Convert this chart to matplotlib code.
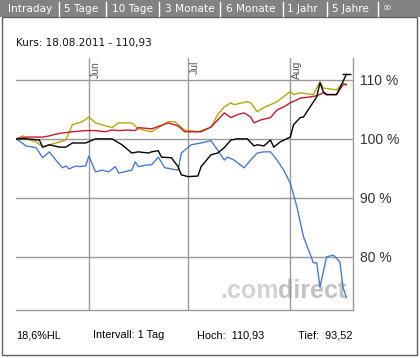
import numpy as np
import pandas as pd
import matplotlib.pyplot as plt
from matplotlib.patches import Rectangle

# Kursverlauf in % (Start = 100 %)
black_dates = ['2011-05-10', '2011-05-13', '2011-05-17', '2011-05-18', '2011-05-20', '2011-05-23',
               '2011-05-25', '2011-05-27', '2011-05-31', '2011-06-03', '2011-06-08', '2011-06-11',
               '2011-06-14', '2011-06-16', '2011-06-19', '2011-06-20', '2011-06-22', '2011-06-23',
               '2011-06-26', '2011-06-28', '2011-06-29', '2011-07-01', '2011-07-04', '2011-07-05',
               '2011-07-08', '2011-07-10', '2011-07-12', '2011-07-14', '2011-07-16', '2011-07-19',
               '2011-07-21', '2011-07-22', '2011-07-24', '2011-07-26', '2011-07-27', '2011-07-29',
               '2011-08-01', '2011-08-02', '2011-08-04', '2011-08-05', '2011-08-07', '2011-08-09',
               '2011-08-10', '2011-08-11', '2011-08-12', '2011-08-15', '2011-08-16', '2011-08-18']
black_vals = [100.0, 100.0, 99.8, 98.6, 99.0, 98.6, 98.6, 99.3, 99.3, 100.0, 100.0, 99.0,
              97.6, 97.8, 97.6, 97.8, 98.0, 96.9, 96.8, 95.3, 93.9, 93.6, 93.7, 95.3,
              97.3, 97.6, 98.5, 99.8, 100.0, 100.0, 98.8, 99.0, 98.8, 99.8, 98.6, 99.5,
              100.3, 102.4, 103.6, 103.7, 105.4, 107.1, 109.5, 108.0, 107.5, 107.5, 108.6, 110.93]

yellow_dates = ['2011-05-10', '2011-05-12', '2011-05-13', '2011-05-16', '2011-05-18', '2011-05-20',
                '2011-05-22', '2011-05-25', '2011-05-27', '2011-05-30', '2011-06-01', '2011-06-03',
                '2011-06-08', '2011-06-10', '2011-06-14', '2011-06-16', '2011-06-20', '2011-06-25',
                '2011-06-27', '2011-06-30', '2011-07-04', '2011-07-08', '2011-07-10', '2011-07-12',
                '2011-07-14', '2011-07-15', '2011-07-19', '2011-07-20', '2011-07-22', '2011-07-24',
                '2011-07-28', '2011-08-01', '2011-08-02', '2011-08-04', '2011-08-08', '2011-08-10',
                '2011-08-11', '2011-08-15', '2011-08-17', '2011-08-18']
yellow_vals = [100.0, 100.5, 100.0, 99.5, 98.6, 99.0, 99.3, 99.8, 102.4, 102.9, 103.7, 102.7,
               101.9, 102.7, 102.7, 101.7, 101.2, 102.9, 102.9, 101.5, 101.2, 102.0, 104.1, 105.4,
               106.1, 105.8, 106.3, 106.1, 104.6, 105.3, 106.3, 108.0, 107.5, 107.8, 107.5, 109.7,
               108.6, 108.3, 109.5, 109.2]

red_dates = ['2011-05-10', '2011-05-13', '2011-05-18', '2011-05-20', '2011-05-22', '2011-05-24',
             '2011-05-27', '2011-05-31', '2011-06-03', '2011-06-06', '2011-06-08', '2011-06-10',
             '2011-06-13', '2011-06-15', '2011-06-16', '2011-06-20', '2011-06-25', '2011-06-28',
             '2011-06-30', '2011-07-05', '2011-07-08', '2011-07-10', '2011-07-12', '2011-07-14',
             '2011-07-16', '2011-07-18', '2011-07-20', '2011-07-21', '2011-07-23', '2011-07-26',
             '2011-07-28', '2011-07-30', '2011-08-01', '2011-08-03', '2011-08-04', '2011-08-07',
             '2011-08-09', '2011-08-11', '2011-08-12', '2011-08-15', '2011-08-17', '2011-08-18']
red_vals = [100.0, 100.3, 100.3, 100.5, 100.8, 101.0, 101.2, 101.4, 101.4, 101.2, 101.5, 101.4,
            101.5, 101.4, 101.9, 101.7, 102.7, 102.2, 101.2, 101.2, 102.0, 103.2, 104.4, 103.6,
            104.1, 104.4, 103.7, 102.7, 103.2, 103.6, 104.9, 105.4, 106.1, 106.6, 106.9, 107.1,
            107.3, 107.8, 107.5, 107.5, 109.2, 109.2]

blue_dates = ['2011-05-10', '2011-05-13', '2011-05-16', '2011-05-18', '2011-05-20', '2011-05-22',
              '2011-05-24', '2011-05-25', '2011-05-26', '2011-05-28', '2011-05-29', '2011-05-31',
              '2011-06-01', '2011-06-03', '2011-06-05', '2011-06-07', '2011-06-09', '2011-06-10',
              '2011-06-14', '2011-06-15', '2011-06-16', '2011-06-19', '2011-06-20', '2011-06-22',
              '2011-06-24', '2011-06-28', '2011-06-29', '2011-07-02', '2011-07-05', '2011-07-08',
              '2011-07-10', '2011-07-12', '2011-07-13', '2011-07-15', '2011-07-18', '2011-07-20',
              '2011-07-22', '2011-07-24', '2011-07-26', '2011-07-28', '2011-07-30', '2011-08-01',
              '2011-08-03', '2011-08-05', '2011-08-08', '2011-08-09', '2011-08-10', '2011-08-12',
              '2011-08-14', '2011-08-16', '2011-08-17', '2011-08-18']
blue_vals = [100.0, 98.8, 98.5, 96.8, 97.8, 96.4, 95.1, 95.4, 94.9, 95.4, 95.3, 95.4,
             97.1, 94.4, 94.7, 94.4, 95.3, 94.2, 94.7, 96.1, 95.3, 95.6, 95.6, 96.9,
             95.1, 94.7, 97.6, 99.0, 99.3, 99.7, 98.1, 96.4, 96.9, 96.4, 95.1, 96.4,
             97.6, 97.8, 97.8, 96.4, 94.7, 92.5, 88.5, 83.4, 79.0, 79.0, 74.9, 80.0,
             80.3, 79.2, 74.8, 73.1]

y_ticks = [80, 90, 100, 110]
month_starts = ['2011-06-01', '2011-07-01', '2011-08-01']
month_labels = ['Jun', 'Jul', 'Aug']
tabs = ['Intraday', '5 Tage', '10 Tage', '3 Monate', '6 Monate', '1 Jahr', '5 Jahre', '\u221e']

W, H = 420, 358
fig = plt.figure(figsize=(W / 100, H / 100), dpi=100)
fig.patch.set_facecolor('white')


def fx(px):
    return px / W


def fy(py):
    return 1 - py / H


# tab bar on top
fig.patches.append(Rectangle((0, fy(17)), 1, 17 / H, transform=fig.transFigure,
                             facecolor='#828282', edgecolor='none'))
tab_x = [8, 64, 112, 165, 226, 287, 332, 383]
sep_x = [59, 106, 159, 220, 283, 327, 378]
for t, x in zip(tabs, tab_x):
    fig.text(fx(x), fy(8.5), t, color='white', fontsize=7.6, va='center', ha='left',
             family='DejaVu Sans')
for x in sep_x:
    fig.lines.append(plt.Line2D([fx(x), fx(x)], [fy(2), fy(16)], transform=fig.transFigure,
                                color='white', lw=1))

# frame
fig.patches.append(Rectangle((fx(2), fy(355)), fx(415), (355 - 17) / H, transform=fig.transFigure,
                             facecolor='none', edgecolor='#606060', lw=1))

fig.text(fx(16), fy(43), 'Kurs: 18.08.2011 - 110,93', fontsize=7.5, va='center', ha='left',
         family='DejaVu Sans', color='#111111')

ax = fig.add_axes([fx(16), fy(310), fx(337), (310 - 58) / H])
ax.set_facecolor('none')

# watermark
ax.text(0.605, 0.048, '.com', transform=ax.transAxes, fontsize=18, color='#d2d2d2',
        family='Liberation Sans', weight='bold', ha='left', va='baseline', zorder=0)
ax.text(0.777, 0.048, 'direct', transform=ax.transAxes, fontsize=18, color='#c2c2c2',
        family='Liberation Sans', weight='bold', ha='left', va='baseline', zorder=0)

ax.plot(pd.to_datetime(yellow_dates), yellow_vals, color='#b8a50f', lw=1.0, zorder=3)
ax.plot(pd.to_datetime(red_dates), red_vals, color='#c21a32', lw=1.0, zorder=4)
ax.plot(pd.to_datetime(blue_dates), blue_vals, color='#4a7bd0', lw=1.0, zorder=3)
ax.plot(pd.to_datetime(black_dates), black_vals, color='black', lw=1.0, zorder=5)
last = pd.to_datetime(black_dates[-1])
ax.hlines(black_vals[-1], last - pd.Timedelta(hours=30), last + pd.Timedelta(hours=36),
          color='black', lw=1.0, zorder=5)

ax.set_xlim(pd.Timestamp('2011-05-09 22:00'), pd.Timestamp('2011-08-20'))
ax.set_ylim(71.0, 113.7)

for y in y_ticks:
    ax.axhline(y, color='#999999', lw=1, zorder=1)
for d, lab in zip(month_starts, month_labels):
    ax.axvline(pd.Timestamp(d), color='#999999', lw=1, zorder=1)
    ax.text(pd.Timestamp(d) + pd.Timedelta(hours=14), 113.2, lab, rotation=90, fontsize=7.5,
            color='#555555', ha='left', va='top', family='Liberation Sans')

ax.set_xticks([])
ax.yaxis.tick_right()
ax.set_yticks(y_ticks)
ax.set_yticklabels([f'{v} %' for v in y_ticks], fontsize=10, color='#333333',
                   family='Liberation Sans')
ax.tick_params(axis='y', length=0, pad=5)
for s in ['top', 'left']:
    ax.spines[s].set_visible(False)
for s in ['bottom', 'right']:
    ax.spines[s].set_color('#999999')
    ax.spines[s].set_linewidth(1)

# footer
fig.text(fx(16), fy(335), '18,6%HL', fontsize=7.8, va='center', family='Liberation Sans')
fig.text(fx(93), fy(335), 'Intervall: 1 Tag', fontsize=7.8, va='center', family='Liberation Sans')
fig.text(fx(197), fy(335), 'Hoch:  110,93', fontsize=7.8, va='center', family='Liberation Sans')
fig.text(fx(298), fy(335), 'Tief:  93,52', fontsize=7.8, va='center', family='Liberation Sans')

fig.savefig('out.png', dpi=100)
